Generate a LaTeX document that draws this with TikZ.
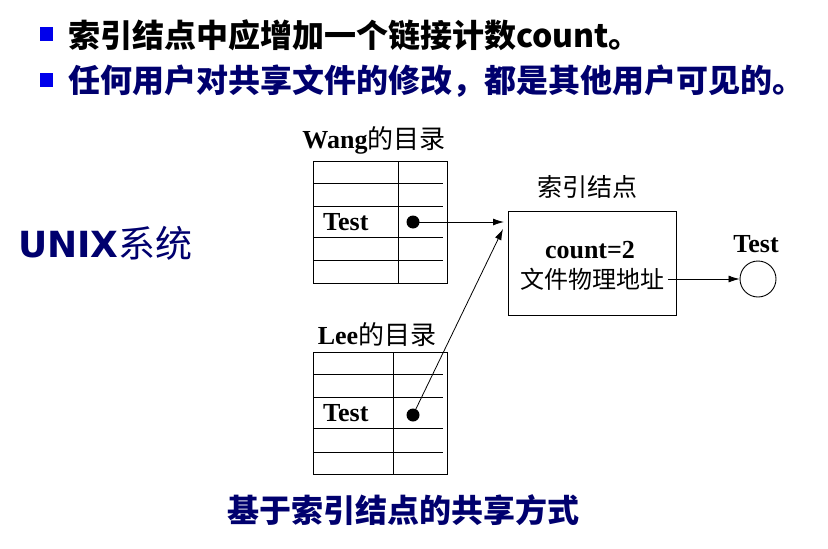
\documentclass[tikz,border=0pt]{standalone}
\usepackage{fontspec}
\usetikzlibrary{arrows.meta}
\setmainfont{Liberation Serif}
\newfontfamily\hei{Noto Sans CJK SC}
\newfontfamily\cjk{Noto Sans CJK SC}
\newfontfamily\uni{DejaVu Sans}
\definecolor{bulletblue}{RGB}{0,0,235}
\definecolor{navy}{RGB}{0,0,110}
\tikzset{
  bullet/.style={fill=bulletblue, minimum width=13pt, minimum height=14pt, inner sep=0pt},
  headline/.style={anchor=west, inner sep=0pt, font=\hei\bfseries\fontsize{32}{36}\selectfont},
  dirtitle/.style={inner sep=0pt, font=\fontsize{26}{30}\selectfont},
  cell/.style={inner sep=0pt, font=\bfseries\fontsize{26}{30}\selectfont},
  dot/.style={circle, fill=black, inner sep=0pt, minimum size=13pt},
  link/.style={line width=0.8pt, -{Latex[length=11pt,width=7pt]}},
  grid/.style={line width=0.9pt},
}
\newcommand{\dirtable}[6]{%
  % #1 left, #2 right, #3 divider, #4 top, #5 bottom, #6 inner row lines
  \draw[grid] (#1,#4) rectangle (#2,#5);
  \draw[grid] (#3,#4) -- (#3,#5);
  \foreach \yy in {#6} { \draw[grid] (#1,\yy) -- ({#2-4},\yy); }
}
\begin{document}
\begin{tikzpicture}[x=1pt,y=-1pt]
\useasboundingbox (0,0) rectangle (828,549);

% headline bullets
\node[bullet] (b1) at (46,34) {};
\node[headline] (h1) at (68,35) {索引结点中应增加一个链接计数count。};
\node[bullet] (b2) at (46,80) {};
\node[headline, text=navy] (h2) at (68,81) {任何用户对共享文件的修改，都是其他用户可见的。};

% system label
\node[anchor=west, inner sep=0pt, text=navy] (unix) at (18,243)
  {{\uni\bfseries\fontsize{36}{40}\selectfont UNIX}{\cjk\fontsize{37}{40}\selectfont 系统}};

% Wang's directory
\node[dirtitle] (wangt) at (374,140) {\textbf{Wang}\cjk 的目录};
\dirtable{313}{447}{398}{161}{283}{183,206,237,260}
\node[cell, anchor=west] (wtest) at (323,222) {Test};
\node[dot] (wdot) at (413,222) {};

% Lee's directory
\node[dirtitle] (leet) at (377,335) {\textbf{Lee}\cjk 的目录};
\dirtable{313}{447}{393}{352}{474}{374,397,428,452}
\node[cell, anchor=west] (ltest) at (323,413) {Test};
\node[dot] (ldot) at (413,415) {};

% index node
\node[inner sep=0pt, font=\cjk\fontsize{25}{28}\selectfont] (inodet) at (587,187) {索引结点};
\node[draw, line width=0.9pt, minimum width=168pt, minimum height=104pt, inner sep=0pt] (inode) at (592,263) {};
\node[inner sep=0pt, font=\bfseries\fontsize{26}{30}\selectfont] (cnt) at (590,250) {count=2};
\node[inner sep=0pt, font=\cjk\fontsize{24}{28}\selectfont] (addr) at (592,279) {文件物理地址};

% file
\node[draw, circle, line width=0.9pt, minimum size=36pt, inner sep=0pt] (file) at (758,279) {};
\node[inner sep=0pt, font=\bfseries\fontsize{26}{30}\selectfont] (filet) at (756,244) {Test};

% links
\coordinate (in1) at (504,222);
\coordinate (in2) at (503,229);
\coordinate (aout) at (668,279);
\draw[link] (wdot.center) -- (in1);
\draw[link] (ldot.center) -- (in2);
\draw[link] (aout) -- (file.west);

% caption
\node[inner sep=0pt, text=navy, font=\hei\bfseries\fontsize{32}{36}\selectfont] (cap) at (403,510) {基于索引结点的共享方式};
\end{tikzpicture}
\end{document}
